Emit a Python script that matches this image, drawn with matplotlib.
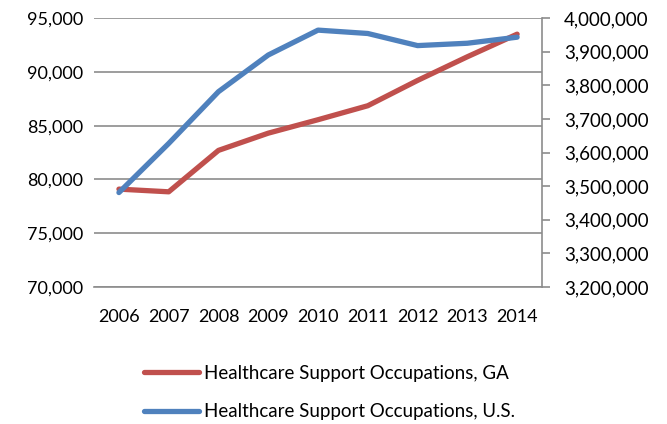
import matplotlib.pyplot as plt
from matplotlib.ticker import FuncFormatter

plt.rcParams['font.family'] = ['Lato', 'DejaVu Sans']

years = ["2006", "2007", "2008", "2009", "2010", "2011", "2012", "2013", "2014"]
ga = [79100, 78850, 82700, 84300, 85550, 86850, 89200, 91400, 93500]
us = [3481000, 3627000, 3781000, 3890000, 3964000, 3954000, 3918000, 3925000, 3943000]

red = "#C0504D"
blue = "#4F81BD"
grid = "#8c8c8c"

fig = plt.figure(figsize=(6.67, 4.24), dpi=100)
ax = fig.add_axes([0.141, 0.323, 0.6716, 0.6345])
ax2 = ax.twinx()

x = range(len(years))
l1, = ax.plot(x, ga, color=red, lw=3.8, solid_capstyle='round', label="Healthcare Support Occupations, GA")
l2, = ax2.plot(x, us, color=blue, lw=3.8, solid_capstyle='round', label="Healthcare Support Occupations, U.S.")

ax.set_xlim(-0.5, len(years) - 0.5)
ax.set_ylim(70000, 95000)
ax.set_yticks(range(70000, 95001, 5000))
ax2.set_ylim(3200000, 4000000)
ax2.set_yticks(range(3200000, 4000001, 100000))

fmt = FuncFormatter(lambda v, p: f"{int(v):,}")
ax.yaxis.set_major_formatter(fmt)
ax2.yaxis.set_major_formatter(fmt)

ax.set_xticks(list(x))
ax.set_xticklabels(years)
ax.yaxis.grid(True, color=grid, lw=1.2)
ax.set_axisbelow(True)

for a in (ax, ax2):
    for s in ("top", "left"):
        a.spines[s].set_visible(False)
ax2.spines["bottom"].set_visible(False)
ax.spines["right"].set_visible(False)
ax.spines["bottom"].set_color(grid)
ax.spines["bottom"].set_linewidth(1.2)
ax2.spines["right"].set_color(grid)
ax2.spines["right"].set_linewidth(1.2)

ax.tick_params(axis='y', length=0, labelsize=13, pad=8)
ax.tick_params(axis='x', length=0, labelsize=13, pad=16)
ax2.tick_params(axis='y', length=6, color=grid, width=1.2, labelsize=13.5, pad=10)

fig.legend(handles=[l1, l2], loc='upper left', bbox_to_anchor=(0.205, 0.158),
           frameon=False, fontsize=13.5, handlelength=2.9, labelspacing=1.15,
           handletextpad=0.3, borderaxespad=0)

fig.savefig("out.png", dpi=100)
